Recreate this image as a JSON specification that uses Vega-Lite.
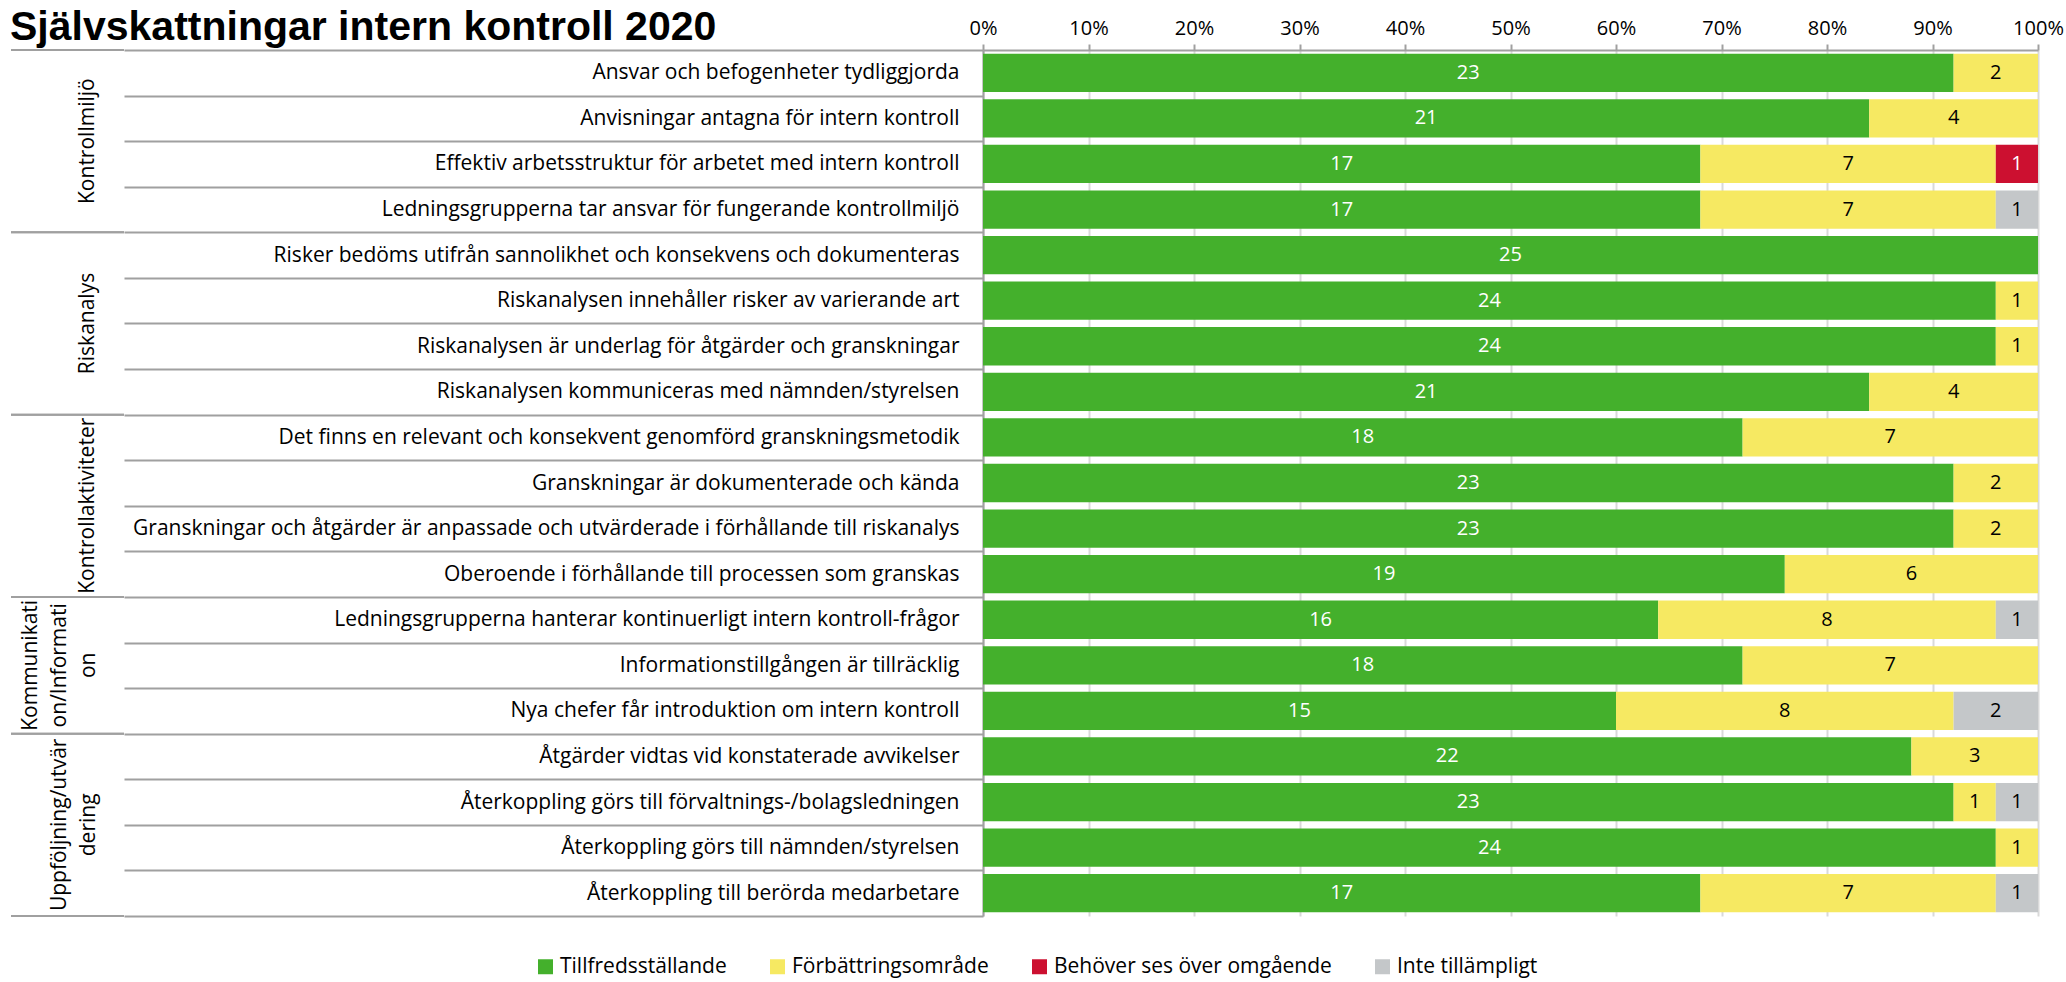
{
  "$schema": "https://vega.github.io/schema/vega-lite/v6.json",
  "padding": {"left": 10, "top": 7, "right": 5, "bottom": 5},
  "background": "white",
  "title": {"text": "Självskattningar intern kontroll 2020", "anchor": "start", "font": "Liberation Sans", "fontSize": 41, "fontWeight": "bold", "color": "black", "offset": -31},
  "config": {"view": {"stroke": null}, "font": "Open Sans", "legend": {"layout": {"bottom": {"anchor": "middle"}}}},
  "spacing": 859,
  "bounds": "flush",
  "datasets": {
    "rows": [
      {"group": "Kontrollmiljö", "item": "Ansvar och befogenheter tydliggjorda", "cat": "Tillfredsställande", "n": 23},
      {"group": "Kontrollmiljö", "item": "Ansvar och befogenheter tydliggjorda", "cat": "Förbättringsområde", "n": 2},
      {"group": "Kontrollmiljö", "item": "Anvisningar antagna för intern kontroll", "cat": "Tillfredsställande", "n": 21},
      {"group": "Kontrollmiljö", "item": "Anvisningar antagna för intern kontroll", "cat": "Förbättringsområde", "n": 4},
      {"group": "Kontrollmiljö", "item": "Effektiv arbetsstruktur för arbetet med intern kontroll", "cat": "Tillfredsställande", "n": 17},
      {"group": "Kontrollmiljö", "item": "Effektiv arbetsstruktur för arbetet med intern kontroll", "cat": "Förbättringsområde", "n": 7},
      {"group": "Kontrollmiljö", "item": "Effektiv arbetsstruktur för arbetet med intern kontroll", "cat": "Behöver ses över omgående", "n": 1},
      {"group": "Kontrollmiljö", "item": "Ledningsgrupperna tar ansvar för fungerande kontrollmiljö", "cat": "Tillfredsställande", "n": 17},
      {"group": "Kontrollmiljö", "item": "Ledningsgrupperna tar ansvar för fungerande kontrollmiljö", "cat": "Förbättringsområde", "n": 7},
      {"group": "Kontrollmiljö", "item": "Ledningsgrupperna tar ansvar för fungerande kontrollmiljö", "cat": "Inte tillämpligt", "n": 1},
      {"group": "Riskanalys", "item": "Risker bedöms utifrån sannolikhet och konsekvens och dokumenteras", "cat": "Tillfredsställande", "n": 25},
      {"group": "Riskanalys", "item": "Riskanalysen innehåller risker av varierande art", "cat": "Tillfredsställande", "n": 24},
      {"group": "Riskanalys", "item": "Riskanalysen innehåller risker av varierande art", "cat": "Förbättringsområde", "n": 1},
      {"group": "Riskanalys", "item": "Riskanalysen är underlag för åtgärder och granskningar", "cat": "Tillfredsställande", "n": 24},
      {"group": "Riskanalys", "item": "Riskanalysen är underlag för åtgärder och granskningar", "cat": "Förbättringsområde", "n": 1},
      {"group": "Riskanalys", "item": "Riskanalysen kommuniceras med nämnden/styrelsen", "cat": "Tillfredsställande", "n": 21},
      {"group": "Riskanalys", "item": "Riskanalysen kommuniceras med nämnden/styrelsen", "cat": "Förbättringsområde", "n": 4},
      {"group": "Kontrollaktiviteter", "item": "Det finns en relevant och konsekvent genomförd granskningsmetodik", "cat": "Tillfredsställande", "n": 18},
      {"group": "Kontrollaktiviteter", "item": "Det finns en relevant och konsekvent genomförd granskningsmetodik", "cat": "Förbättringsområde", "n": 7},
      {"group": "Kontrollaktiviteter", "item": "Granskningar är dokumenterade och kända", "cat": "Tillfredsställande", "n": 23},
      {"group": "Kontrollaktiviteter", "item": "Granskningar är dokumenterade och kända", "cat": "Förbättringsområde", "n": 2},
      {"group": "Kontrollaktiviteter", "item": "Granskningar och åtgärder är anpassade och utvärderade i förhållande till riskanalys", "cat": "Tillfredsställande", "n": 23},
      {"group": "Kontrollaktiviteter", "item": "Granskningar och åtgärder är anpassade och utvärderade i förhållande till riskanalys", "cat": "Förbättringsområde", "n": 2},
      {"group": "Kontrollaktiviteter", "item": "Oberoende i förhållande till processen som granskas", "cat": "Tillfredsställande", "n": 19},
      {"group": "Kontrollaktiviteter", "item": "Oberoende i förhållande till processen som granskas", "cat": "Förbättringsområde", "n": 6},
      {"group": "Kommunikation/Information", "item": "Ledningsgrupperna hanterar kontinuerligt intern kontroll-frågor", "cat": "Tillfredsställande", "n": 16},
      {"group": "Kommunikation/Information", "item": "Ledningsgrupperna hanterar kontinuerligt intern kontroll-frågor", "cat": "Förbättringsområde", "n": 8},
      {"group": "Kommunikation/Information", "item": "Ledningsgrupperna hanterar kontinuerligt intern kontroll-frågor", "cat": "Inte tillämpligt", "n": 1},
      {"group": "Kommunikation/Information", "item": "Informationstillgången är tillräcklig", "cat": "Tillfredsställande", "n": 18},
      {"group": "Kommunikation/Information", "item": "Informationstillgången är tillräcklig", "cat": "Förbättringsområde", "n": 7},
      {"group": "Kommunikation/Information", "item": "Nya chefer får introduktion om intern kontroll", "cat": "Tillfredsställande", "n": 15},
      {"group": "Kommunikation/Information", "item": "Nya chefer får introduktion om intern kontroll", "cat": "Förbättringsområde", "n": 8},
      {"group": "Kommunikation/Information", "item": "Nya chefer får introduktion om intern kontroll", "cat": "Inte tillämpligt", "n": 2},
      {"group": "Uppföljning/utvärdering", "item": "Åtgärder vidtas vid konstaterade avvikelser", "cat": "Tillfredsställande", "n": 22},
      {"group": "Uppföljning/utvärdering", "item": "Åtgärder vidtas vid konstaterade avvikelser", "cat": "Förbättringsområde", "n": 3},
      {"group": "Uppföljning/utvärdering", "item": "Återkoppling görs till förvaltnings-/bolagsledningen ", "cat": "Tillfredsställande", "n": 23},
      {"group": "Uppföljning/utvärdering", "item": "Återkoppling görs till förvaltnings-/bolagsledningen ", "cat": "Förbättringsområde", "n": 1},
      {"group": "Uppföljning/utvärdering", "item": "Återkoppling görs till förvaltnings-/bolagsledningen ", "cat": "Inte tillämpligt", "n": 1},
      {"group": "Uppföljning/utvärdering", "item": "Återkoppling görs till nämnden/styrelsen", "cat": "Tillfredsställande", "n": 24},
      {"group": "Uppföljning/utvärdering", "item": "Återkoppling görs till nämnden/styrelsen", "cat": "Förbättringsområde", "n": 1},
      {"group": "Uppföljning/utvärdering", "item": "Återkoppling till berörda medarbetare", "cat": "Tillfredsställande", "n": 17},
      {"group": "Uppföljning/utvärdering", "item": "Återkoppling till berörda medarbetare", "cat": "Förbättringsområde", "n": 7},
      {"group": "Uppföljning/utvärdering", "item": "Återkoppling till berörda medarbetare", "cat": "Inte tillämpligt", "n": 1}
    ],
    "groups": [
      {"group": "Kontrollmiljö", "lines": ["Kontrollmiljö"], "rows": 4, "first": "Ansvar och befogenheter tydliggjorda", "mid": "Effektiv arbetsstruktur för arbetet med intern kontroll", "last": "Ledningsgrupperna tar ansvar för fungerande kontrollmiljö"},
      {"group": "Riskanalys", "lines": ["Riskanalys"], "rows": 4, "first": "Risker bedöms utifrån sannolikhet och konsekvens och dokumenteras", "mid": "Riskanalysen är underlag för åtgärder och granskningar", "last": "Riskanalysen kommuniceras med nämnden/styrelsen"},
      {"group": "Kontrollaktiviteter", "lines": ["Kontrollaktiviteter"], "rows": 4, "first": "Det finns en relevant och konsekvent genomförd granskningsmetodik", "mid": "Granskningar och åtgärder är anpassade och utvärderade i förhållande till riskanalys", "last": "Oberoende i förhållande till processen som granskas"},
      {"group": "Kommunikation/Information", "lines": ["Kommunikati", "on/Informati", "on"], "rows": 3, "first": "Ledningsgrupperna hanterar kontinuerligt intern kontroll-frågor", "mid": "Informationstillgången är tillräcklig", "last": "Nya chefer får introduktion om intern kontroll"},
      {"group": "Uppföljning/utvärdering", "lines": ["Uppföljning/utvär", "dering"], "rows": 4, "first": "Åtgärder vidtas vid konstaterade avvikelser", "mid": "Återkoppling görs till nämnden/styrelsen", "last": "Återkoppling till berörda medarbetare"}
    ]
  },
  "hconcat": [
    {
      "width": 113,
      "height": 866,
      "data": {"name": "groups"},
      "layer": [
        {
          "mark": {"type": "rule", "color": "#a0a0a0", "strokeWidth": 2},
          "encoding": {"y": {"field": "first", "type": "nominal", "bandPosition": 0, "axis": null, "scale": {"paddingInner": 0, "paddingOuter": 0, "domain": ["Ansvar och befogenheter tydliggjorda", "Anvisningar antagna för intern kontroll", "Effektiv arbetsstruktur för arbetet med intern kontroll", "Ledningsgrupperna tar ansvar för fungerande kontrollmiljö", "Risker bedöms utifrån sannolikhet och konsekvens och dokumenteras", "Riskanalysen innehåller risker av varierande art", "Riskanalysen är underlag för åtgärder och granskningar", "Riskanalysen kommuniceras med nämnden/styrelsen", "Det finns en relevant och konsekvent genomförd granskningsmetodik", "Granskningar är dokumenterade och kända", "Granskningar och åtgärder är anpassade och utvärderade i förhållande till riskanalys", "Oberoende i förhållande till processen som granskas", "Ledningsgrupperna hanterar kontinuerligt intern kontroll-frågor", "Informationstillgången är tillräcklig", "Nya chefer får introduktion om intern kontroll", "Åtgärder vidtas vid konstaterade avvikelser", "Återkoppling görs till förvaltnings-/bolagsledningen ", "Återkoppling görs till nämnden/styrelsen", "Återkoppling till berörda medarbetare"]}}}
        },
        {
          "mark": {"type": "rule", "color": "#a0a0a0", "strokeWidth": 2},
          "encoding": {"y": {"field": "last", "type": "nominal", "bandPosition": 1, "axis": null}}
        },
        {
          "transform": [{"filter": "length(datum.lines) == 1"}],
          "mark": {"type": "text", "angle": 270, "align": "center", "baseline": "bottom", "fontSize": 21, "lineHeight": 29, "dy": 30, "color": "black"},
          "encoding": {"y": {"field": "mid", "type": "nominal", "bandPosition": 0, "axis": null}, "text": {"field": "lines"}}
        },
        {
          "transform": [{"filter": "length(datum.lines) == 2"}],
          "mark": {"type": "text", "angle": 270, "align": "center", "baseline": "bottom", "fontSize": 21, "lineHeight": 29, "dy": 2, "color": "black"},
          "encoding": {"y": {"field": "mid", "type": "nominal", "bandPosition": 0, "axis": null}, "text": {"field": "lines"}}
        },
        {
          "transform": [{"filter": "length(datum.lines) == 3"}],
          "mark": {"type": "text", "angle": 270, "align": "center", "baseline": "bottom", "fontSize": 21, "lineHeight": 29, "dy": -27, "color": "black"},
          "encoding": {"y": {"field": "mid", "type": "nominal", "bandPosition": 0.5, "axis": null}, "text": {"field": "lines"}}
        }
      ]
    },
    {
      "width": 1055,
      "height": 866,
      "data": {"name": "rows"},
      "transform": [{"calculate": "indexof(['Tillfredsställande', 'Förbättringsområde', 'Behöver ses över omgående', 'Inte tillämpligt'], datum.cat)", "as": "ord"}],
      "encoding": {
        "y": {
          "field": "item", "type": "nominal",
          "scale": {"paddingInner": 0, "paddingOuter": 0, "domain": ["Ansvar och befogenheter tydliggjorda", "Anvisningar antagna för intern kontroll", "Effektiv arbetsstruktur för arbetet med intern kontroll", "Ledningsgrupperna tar ansvar för fungerande kontrollmiljö", "Risker bedöms utifrån sannolikhet och konsekvens och dokumenteras", "Riskanalysen innehåller risker av varierande art", "Riskanalysen är underlag för åtgärder och granskningar", "Riskanalysen kommuniceras med nämnden/styrelsen", "Det finns en relevant och konsekvent genomförd granskningsmetodik", "Granskningar är dokumenterade och kända", "Granskningar och åtgärder är anpassade och utvärderade i förhållande till riskanalys", "Oberoende i förhållande till processen som granskas", "Ledningsgrupperna hanterar kontinuerligt intern kontroll-frågor", "Informationstillgången är tillräcklig", "Nya chefer får introduktion om intern kontroll", "Åtgärder vidtas vid konstaterade avvikelser", "Återkoppling görs till förvaltnings-/bolagsledningen ", "Återkoppling görs till nämnden/styrelsen", "Återkoppling till berörda medarbetare"]},
          "axis": {"title": null, "orient": "left", "tickBand": "extent", "tickSize": 859, "tickColor": "#a0a0a0", "tickWidth": 2, "labelPadding": -835, "labelFontSize": 21, "labelLimit": 0, "labelColor": "black", "domainColor": "#a0a0a0", "domainWidth": 2}
        },
        "x": {
          "field": "n", "type": "quantitative", "stack": "normalize",
          "axis": {"title": null, "orient": "top", "format": "%", "values": [0, 0.1, 0.2, 0.3, 0.4, 0.5, 0.6, 0.7, 0.8, 0.9, 1], "grid": true, "gridColor": "#d9d9d9", "gridWidth": 2, "tickColor": "#a0a0a0", "tickSize": 6, "tickWidth": 2, "domainColor": "#a0a0a0", "domainWidth": 2, "labelFontSize": 20, "labelColor": "black", "labelPadding": 6, "labelFlush": false}
        },
        "order": {"field": "ord", "type": "quantitative"}
      },
      "layer": [
        {
          "mark": {"type": "bar", "height": {"band": 0.84}},
          "encoding": {
            "color": {
              "field": "cat", "type": "nominal",
              "scale": {"domain": ["Tillfredsställande", "Förbättringsområde", "Behöver ses över omgående", "Inte tillämpligt"], "range": ["#44B02C", "#F6E962", "#CC1030", "#C4C7C9"]},
              "legend": {
                "title": null, "orient": "bottom", "direction": "horizontal", "labelFontSize": 21, "labelColor": "black", "labelLimit": 0, "symbolType": "square", "symbolSize": 225, "symbolStrokeWidth": 0, "columnPadding": 40, "offset": 39,
                "encode": {"symbols": {"update": {"fill": {"signal": "datum.label == 'Behöver ses över omgående' ? '#FF0000' : scale('color', datum.value)"}}}}
              }
            }
          }
        },
        {
          "mark": {"type": "text", "fontSize": 20},
          "encoding": {
            "x": {"field": "n", "type": "quantitative", "stack": "normalize", "bandPosition": 0.5},
            "detail": {"field": "cat", "type": "nominal"},
            "text": {"field": "n", "type": "quantitative"},
            "color": {"condition": {"test": "datum.cat == 'Tillfredsställande' || datum.cat == 'Behöver ses över omgående'", "value": "white"}, "value": "black"}
          }
        }
      ]
    }
  ]
}
